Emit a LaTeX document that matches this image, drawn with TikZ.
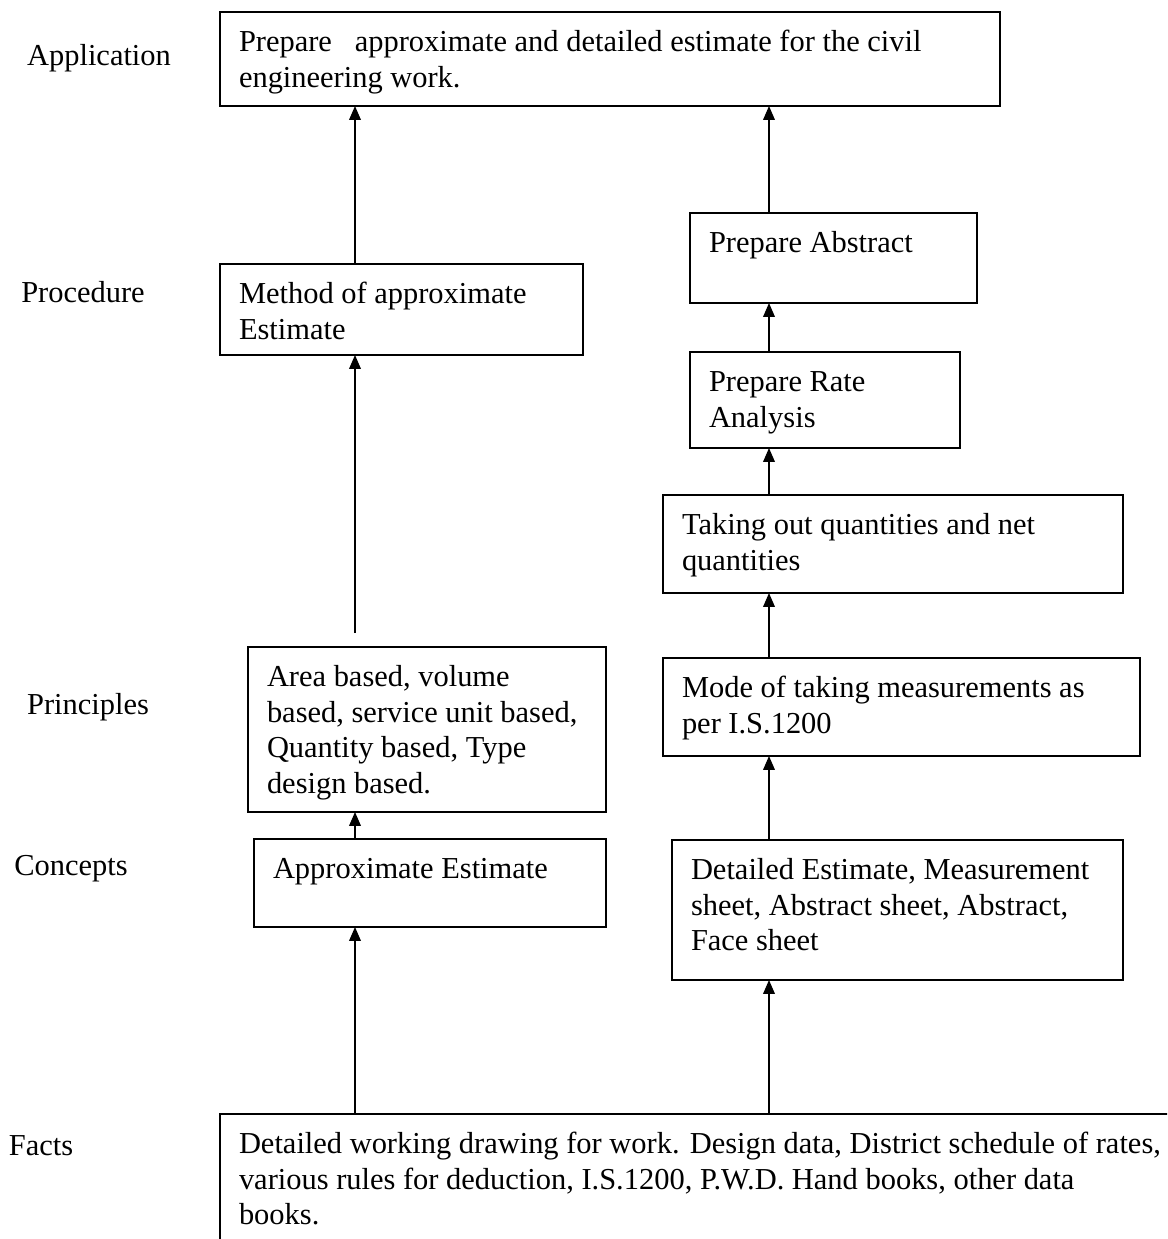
\documentclass[tikz,border=0pt]{standalone}
\usepackage{fontspec}
\setmainfont{Liberation Serif}
\usetikzlibrary{arrows.meta}
\newdimen\px \px=0.394pt
% box text: width, height, text (set at the top left of the box)
\newcommand{\boxtext}[3]{%
	\parbox[t][#2\px][t]{#1\px}{\vspace*{15\px}\hspace*{19\px}%
	\parbox[t]{\dimexpr#1\px-38\px\relax}{\raggedright\strut #3}}}
\tikzset{
	every node/.style = {font=\fontsize{12}{14}\selectfont},
	block/.style = {draw, line width=0.8pt, inner sep=0pt, outer sep=0pt, anchor=north west},
	rowlabel/.style = {inner sep=0pt},
	up/.style = {line width=0.6pt, -{Triangle[length=5.5pt, width=4.6pt]}}
}

\begin{document}
\begin{tikzpicture}[x=0.394pt, y=-0.394pt]
		\path[use as bounding box, clip] (0,0) rectangle (1167,1239);
		% columns of the arrows
		\coordinate (leftcol) at (355,0);
		\coordinate (rightcol) at (769,0);
		% row labels
		\node[rowlabel] (lapp) at (99,58) {Application};
		\node[rowlabel] (lproc) at (83,292) {Procedure};
		\node[rowlabel] (lprin) at (88,707) {Principles};
		\node[rowlabel] (lconc) at (71,869) {Concepts};
		\node[rowlabel] (lfact) at (41,1146) {Facts};
		% application
		\node[block] (app) at (220,12) {\boxtext{780}{94}{Prepare~~~approximate and detailed estimate for the civil\\engineering work.}};
		% left column
		\node[block] (method) at (220,264) {\boxtext{363}{91}{Method of approximate\\Estimate}};
		\node[block] (area) at (248,647) {\boxtext{358}{165}{Area based, volume\\based, service unit based,\\Quantity based, Type\\design based.}};
		\node[block] (approx) at (254,839) {\boxtext{352}{88}{Approximate Estimate}};
		% right column
		\node[block] (abstract) at (690,213) {\boxtext{287}{90}{Prepare Abstract}};
		\node[block] (rate) at (690,352) {\boxtext{270}{96}{Prepare Rate\\Analysis}};
		\node[block] (taking) at (663,495) {\boxtext{460}{98}{Taking out quantities and net\\quantities}};
		\node[block] (mode) at (663,658) {\boxtext{477}{98}{Mode of taking measurements as\\per I.S.1200}};
		\node[block] (detailed) at (672,840) {\boxtext{451}{140}{Detailed Estimate, Measurement\\sheet, Abstract sheet, Abstract,\\Face sheet}};
		% facts
		\node[block] (facts) at (220,1114) {\boxtext{1000}{200}{Detailed working drawing for work. Design data, District schedule of rates,\\various rules for deduction, I.S.1200, P.W.D. Hand books, other data\\books.}};
		
		% arrows, left
		\draw[up] (facts.north -| leftcol) -- (approx.south -| leftcol);
		\draw[up] (approx.north -| leftcol) -- (area.south -| leftcol);
		\draw[up, shorten <=5.5pt] (area.north -| leftcol) -- (method.south -| leftcol);
		\draw[up] (method.north -| leftcol) -- (app.south -| leftcol);
		% arrows, right
		\draw[up] (facts.north -| rightcol) -- (detailed.south -| rightcol);
		\draw[up] (detailed.north -| rightcol) -- (mode.south -| rightcol);
		\draw[up] (mode.north -| rightcol) -- (taking.south -| rightcol);
		\draw[up] (taking.north -| rightcol) -- (rate.south -| rightcol);
		\draw[up] (rate.north -| rightcol) -- (abstract.south -| rightcol);
		\draw[up] (abstract.north -| rightcol) -- (app.south -| rightcol);
	\end{tikzpicture}
\end{document}
